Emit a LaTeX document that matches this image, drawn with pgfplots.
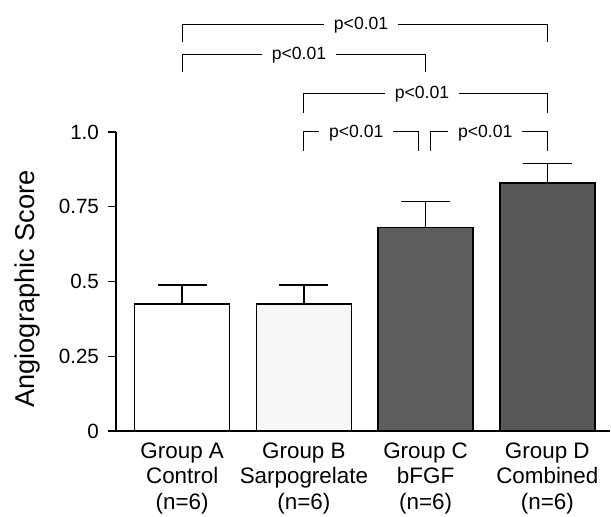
\documentclass[border=0pt]{standalone}
\usepackage{fontspec}
\setmainfont{Liberation Sans}
\usepackage{pgfplots}
\pgfplotsset{compat=1.18}
\definecolor{darkbar}{HTML}{5E5E5E}
\definecolor{darkbarD}{HTML}{585858}
\definecolor{lightbar}{HTML}{F7F7F7}
\begin{document}
\begin{tikzpicture}
\begin{axis}[
  scale only axis, width=247pt, height=149.5pt,
  xmin=0.456, xmax=4.515, ymin=0, ymax=1,
  axis x line*=bottom, axis y line*=left,
  axis line style={line width=0.6pt, black},
  xtick={1,2,3,4},
  xticklabels={{Group A\\Control\\(n=6)},{Group B\\Sarpogrelate\\(n=6)},{Group C\\bFGF\\(n=6)},{Group D\\Combined\\(n=6)}},
  x tick style={draw=none},
  xticklabel style={align=center, font=\fontsize{11.2}{12.9}\selectfont, yshift=1.8pt},
  ytick={0,0.25,0.5,0.75,1},
  yticklabels={0,0.25,0.5,0.75,1.0},
  y tick style={line width=0.6pt, black},
  tick align=outside, major tick length=4pt,
  yticklabel style={font=\fontsize{10.3}{12}\selectfont, xshift=-1pt},
  /pgf/number format/assume math mode=true,
  ylabel={Angiographic Score},
  ylabel style={font=\fontsize{13.6}{16}\selectfont, at={(rel axis cs:-0.164,0.475)}, anchor=base},
  clip=false,
]
\addplot[ybar, bar width=0.78, bar shift=0pt, fill=white, draw=black, line width=0.75pt,
  error bars/.cd, y dir=plus, y explicit,
  error bar style={line width=0.75pt},
  error mark options={rotate=90, mark size=12.25pt, line width=0.75pt}]
  coordinates {(1,0.424) +- (0,0.064)};
\addplot[ybar, bar width=0.78, bar shift=0pt, fill=lightbar, draw=black, line width=0.75pt,
  error bars/.cd, y dir=plus, y explicit,
  error bar style={line width=0.75pt},
  error mark options={rotate=90, mark size=12.25pt, line width=0.75pt}]
  coordinates {(2,0.424) +- (0,0.064)};
\addplot[ybar, bar width=0.78, bar shift=0pt, fill=darkbar, draw=black, line width=0.75pt,
  error bars/.cd, y dir=plus, y explicit,
  error bar style={line width=0.75pt},
  error mark options={rotate=90, mark size=12.25pt, line width=0.75pt}]
  coordinates {(3,0.680) +- (0,0.087)};
\addplot[ybar, bar width=0.78, bar shift=0pt, fill=darkbarD, draw=black, line width=0.75pt,
  error bars/.cd, y dir=plus, y explicit,
  error bar style={line width=0.75pt},
  error mark options={rotate=90, mark size=12.25pt, line width=0.75pt}]
  coordinates {(4,0.830) +- (0,0.065)};

\tikzset{pnode/.style={fill=white, inner xsep=5pt, inner ysep=1pt, anchor=mid, font=\fontsize{8.8}{10}\selectfont}}
\draw[line width=0.5pt] (axis cs:1,1.302) -- (axis cs:1,1.360) -- (axis cs:4,1.360) -- (axis cs:4,1.302);
\node[pnode] at (axis cs:2.47,1.360) {p<0.01};
\draw[line width=0.5pt] (axis cs:1,1.200) -- (axis cs:1,1.260) -- (axis cs:3,1.260) -- (axis cs:3,1.200);
\node[pnode] at (axis cs:1.96,1.260) {p<0.01};
\draw[line width=0.5pt] (axis cs:2,1.065) -- (axis cs:2,1.129) -- (axis cs:4,1.129) -- (axis cs:4,1.065);
\node[pnode] at (axis cs:2.97,1.129) {p<0.01};
\draw[line width=0.5pt] (axis cs:2,0.937) -- (axis cs:2,1.0) -- (axis cs:2.943,1.0) -- (axis cs:2.943,0.937);
\node[pnode] at (axis cs:2.43,1.0) {p<0.01};
\draw[line width=0.5pt] (axis cs:3.044,0.937) -- (axis cs:3.044,1.0) -- (axis cs:4,1.0) -- (axis cs:4,0.937);
\node[pnode] at (axis cs:3.49,1.0) {p<0.01};
\coordinate (O) at (rel axis cs:0,0);
\end{axis}
\pgfresetboundingbox
\useasboundingbox ([shift={(-58pt,-43pt)}]O) rectangle ([shift={(247.5pt,215.5pt)}]O);
\end{tikzpicture}
\end{document}
